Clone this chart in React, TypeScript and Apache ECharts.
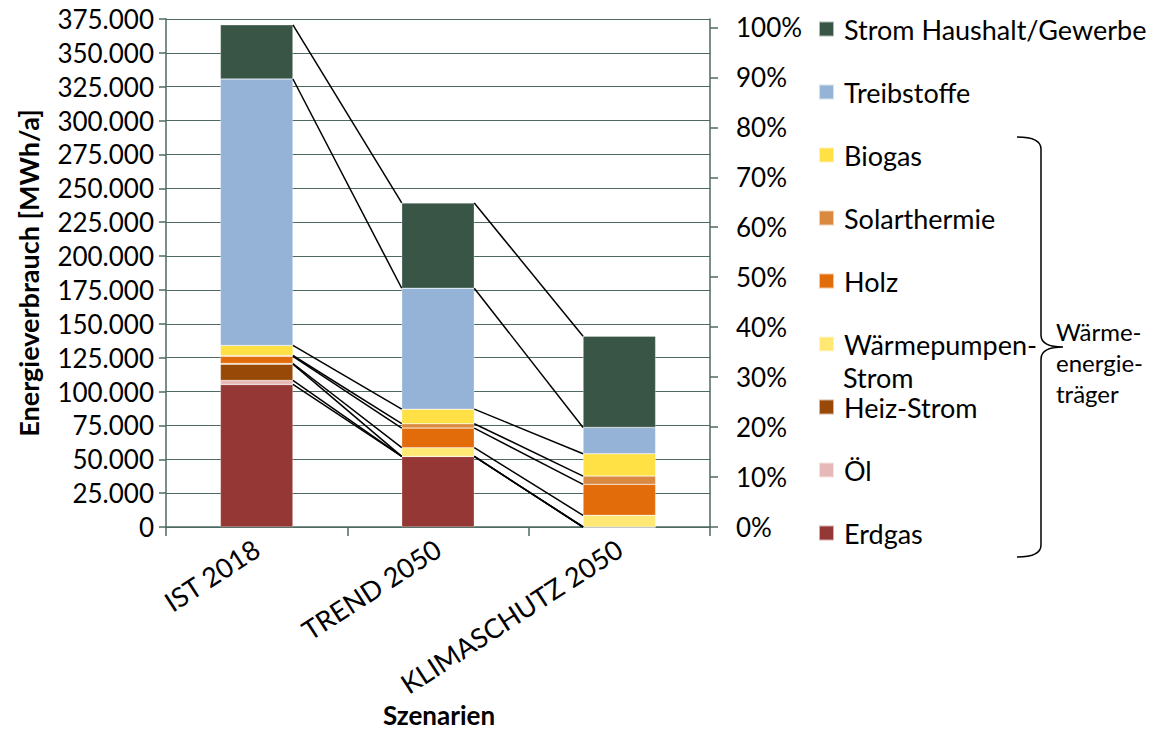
import React, { useEffect, useRef } from "react";
import * as echarts from "echarts";

const categories = ["IST 2018", "TREND 2050", "KLIMASCHUTZ 2050"];
const erdgas = [105200, 52100, 0];
const oel = [3000, 0, 0];
const heizStrom = [12000, 0, 0];
const wpStrom = [500, 6450, 8600];
const holz = [5300, 14450, 22900];
const solarthermie = [600, 3250, 6100];
const biogas = [7400, 10750, 16500];
const treibstoffe = [196700, 89250, 19400];
const stromHH = [40000, 62950, 67360];

const leftTicks = { min: 0, max: 375000, interval: 25000 };
const rightTickValues = [0, 0.1, 0.2, 0.3, 0.4, 0.5, 0.6, 0.7, 0.8, 0.9, 1.0];

const seriesDefs = [
  { name: "Erdgas", data: erdgas, color: "#953735" },
  { name: "Öl", data: oel, color: "#E6B9B8" },
  { name: "Heiz-Strom", data: heizStrom, color: "#984807" },
  { name: "Wärmepumpen-Strom", data: wpStrom, color: "#FFE874" },
  { name: "Holz", data: holz, color: "#E36C0A" },
  { name: "Solarthermie", data: solarthermie, color: "#DA8A40" },
  { name: "Biogas", data: biogas, color: "#FFE045" },
  { name: "Treibstoffe", data: treibstoffe, color: "#95B3D7" },
  { name: "Strom Haushalt/Gewerbe", data: stromHH, color: "#385546" },
];

const FONT = "Lato";
const AXIS_COLOR = "#4F6A63";

function fmtDE(v: number) {
  return String(v).replace(/\B(?=(\d{3})+(?!\d))/g, ".");
}

export default function App() {
  const ref = useRef<HTMLDivElement>(null);
  useEffect(() => {
    if (!ref.current) return;
    document.body.style.margin = "0";
    echarts.graphic.registerShape(
      "brace",
      echarts.graphic.extendPath(
        "M1017,137 Q1041,137 1041,149 L1041,335 Q1041,347 1063,347 Q1041,347 1041,359 L1041,545 Q1041,557 1017,557",
        {}
      )
    );
    const chart = echarts.init(ref.current, null, { renderer: "svg" });

    const cum: number[][] = [];
    const run = [0, 0, 0];
    seriesDefs.forEach((s) => {
      for (let i = 0; i < 3; i++) run[i] += s.data[i];
      cum.push([...run]);
    });
    const lineData: number[][] = [];
    for (let s = 0; s < seriesDefs.length; s++) {
      for (let i = 0; i < 2; i++) lineData.push([i, s]);
    }

    const barSeries = seriesDefs.map((s) => ({
      name: s.name,
      type: "bar",
      stack: "total",
      barWidth: "40%",
      data: s.data,
      itemStyle: { color: s.color, borderColor: "rgba(255,255,255,0.6)", borderWidth: 0.5 },
      z: 2,
    }));

    const option: any = {
      animation: false,
      textStyle: { fontFamily: FONT },
      grid: { left: 166, right: 442, top: 19, bottom: 204, containLabel: false, outerBoundsMode: "none" },
      legend: {
        orient: "vertical",
        left: 818,
        top: 14,
        padding: 0,
        itemWidth: 15,
        itemHeight: 15,
        itemGap: 33,
        icon: "rect",
        data: [
          "Strom Haushalt/Gewerbe",
          "Treibstoffe",
          "Biogas",
          "Solarthermie",
          "Holz",
          "Wärmepumpen-Strom",
          "Heiz-Strom",
          "Öl",
          "Erdgas",
        ],
        formatter: (n: string) => (n === "Wärmepumpen-Strom" ? "Wärmepumpen-" : n),
        textStyle: { fontFamily: FONT, fontSize: 27, lineHeight: 30, color: "#000", padding: [0, 0, 0, 5] },
        selectedMode: false,
      },
      xAxis: {
        type: "category",
        data: categories,
        axisLine: { lineStyle: { color: AXIS_COLOR, width: 1.5 } },
        axisTick: { show: true, length: 9, lineStyle: { color: AXIS_COLOR, width: 1.5 } },
        axisLabel: { rotate: 33, margin: 19, fontSize: 27, color: "#000", fontFamily: FONT },
      },
      yAxis: [
        {
          type: "value",
          min: leftTicks.min,
          max: leftTicks.max,
          interval: leftTicks.interval,
          axisLine: { show: true, lineStyle: { color: AXIS_COLOR, width: 1.5 } },
          axisTick: { show: true, length: 7, lineStyle: { color: AXIS_COLOR, width: 1.5 } },
          splitLine: { show: true, lineStyle: { color: AXIS_COLOR, width: 1.2 } },
          axisLabel: { formatter: (v: number) => fmtDE(v), fontSize: 26, color: "#000", margin: 12, fontFamily: FONT },
          name: "Energieverbrauch [MWh/a]",
          nameLocation: "middle",
          nameGap: 124,
          nameRotate: 90,
          nameTextStyle: { fontSize: 27, fontWeight: "bold", color: "#000", fontFamily: FONT },
        },
        {
          type: "value",
          position: "right",
          min: 0,
          max: 1.0168,
          axisLine: { show: true, lineStyle: { color: AXIS_COLOR, width: 1.5 } },
          axisTick: { show: true, length: 8, customValues: rightTickValues, lineStyle: { color: AXIS_COLOR, width: 1.5 } },
          splitLine: { show: false },
          axisLabel: {
            customValues: rightTickValues,
            formatter: (v: number) => Math.round(v * 100) + "%",
            fontSize: 26,
            color: "#000",
            margin: 26,
            fontFamily: FONT,
          },
        },
      ],
      series: [
        ...barSeries,
        {
          type: "custom",
          name: "seriesLines",
          data: lineData,
          encode: { x: 0, y: 1 },
          z: 5,
          silent: true,
          renderItem: (params: any, api: any) => {
            const i = api.value(0);
            const s = api.value(1);
            const p0 = api.coord([i, cum[s][i]]);
            const p1 = api.coord([i + 1, cum[s][i + 1]]);
            const band = api.size([1, 0])[0];
            const hw = band * 0.2;
            return {
              type: "line",
              shape: { x1: p0[0] + hw, y1: p0[1], x2: p1[0] - hw, y2: p1[1] },
              style: { stroke: "#000", lineWidth: 1.5 },
            };
          },
        },
      ],
      graphic: [
        {
          type: "text",
          x: 439,
          y: 715,
          style: {
            text: "Szenarien",
            fontSize: 26,
            fontWeight: "bold",
            align: "center",
            verticalAlign: "middle",
            fontFamily: FONT,
            fill: "#000",
          },
        },
        {
          type: "text",
          x: 843,
          y: 377,
          style: { text: "Strom", fontSize: 27, lineHeight: 24, verticalAlign: "middle", fontFamily: FONT, fill: "#000" },
        },
        {
          type: "brace",
          x: 0,
          y: 0,
          shape: {},
          style: { fill: "none", stroke: "#000", lineWidth: 1.5 },
        },
        {
          type: "text",
          left: 1056,
          top: 316,
          style: { text: "Wärme-\nenergie-\nträger", fontSize: 24, lineHeight: 31, fontFamily: FONT, fill: "#000" },
        },
      ],
    };
    chart.setOption(option);
    return () => chart.dispose();
  }, []);
  return <div ref={ref} style={{ width: 1152, height: 731 }} />;
}
